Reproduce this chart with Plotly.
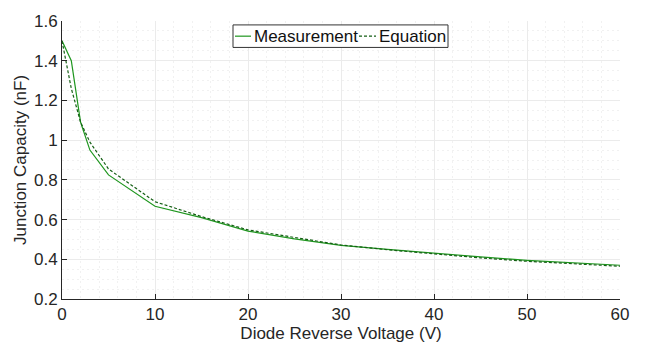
import plotly.graph_objects as go

# Reverse bias sweep (V) and junction capacitance (nF)
voltage = [0, 1, 2, 3, 5, 10, 15, 20, 25, 30, 35, 40, 45, 50, 55, 60]
measured = [1.5, 1.4, 1.09, 0.95, 0.825, 0.667, 0.61, 0.542, 0.503, 0.47,
            0.45, 0.43, 0.412, 0.395, 0.382, 0.37]
equation = [1.5, 1.26, 1.09, 0.99, 0.855, 0.69, 0.615, 0.548, 0.51, 0.472,
            0.448, 0.426, 0.407, 0.39, 0.376, 0.365]

x_ticks = [0, 10, 20, 30, 40, 50, 60]
y_ticks = [0.2, 0.4, 0.6, 0.8, 1.0, 1.2, 1.4, 1.6]
y_tick_text = ["0.2", "0.4", "0.6", "0.8", "1", "1.2", "1.4", "1.6"]

series_names = ["Measurement", "Equation"]
green = "#1e961e"
dark_green = "#155f15"
FONT = "Liberation Sans, Arial, sans-serif"

fig = go.Figure()
fig.add_trace(go.Scatter(x=voltage, y=measured, mode="lines", name=series_names[0],
                         line=dict(color=green, width=1.2), showlegend=False))
fig.add_trace(go.Scatter(x=voltage, y=equation, mode="lines", name=series_names[1],
                         line=dict(color=dark_green, width=1.2, dash="3px,2px"),
                         showlegend=False))

# Compact boxed legend drawn in paper coordinates
W, H, L, T = 645, 352, 62, 15
PW, PH = W - L - 25, H - T - 53


def px(xp):
    return (xp - L) / PW


def py(yp):
    return 1 - (yp - T) / PH


shapes = [
    dict(type="rect", xref="paper", yref="paper", x0=px(233), x1=px(448), y0=py(42), y1=py(19),
         line=dict(color="#333333", width=1), fillcolor="white", layer="above"),
    dict(type="line", xref="paper", yref="paper", x0=px(235), x1=px(251), y0=py(30.5), y1=py(30.5),
         line=dict(color=green, width=1.2), layer="above"),
    dict(type="line", xref="paper", yref="paper", x0=px(359), x1=px(376), y0=py(30.5), y1=py(30.5),
         line=dict(color=dark_green, width=1.2, dash="3px,2px"), layer="above"),
]
annotations = [
    dict(text=series_names[0], xref="paper", yref="paper", x=px(252), y=py(30.5),
         xanchor="left", yanchor="middle", showarrow=False,
         font=dict(family=FONT, size=17, color="#111111")),
    dict(text=series_names[1], xref="paper", yref="paper", x=px(377), y=py(30.5),
         xanchor="left", yanchor="middle", showarrow=False,
         font=dict(family=FONT, size=17, color="#111111")),
]

fig.update_layout(
    width=W, height=H,
    margin=dict(l=L, r=25, t=T, b=53),
    paper_bgcolor="white", plot_bgcolor="white",
    font=dict(family=FONT, size=17, color="#262626"),
    showlegend=False,
    shapes=shapes,
    annotations=annotations,
    xaxis=dict(range=[0, 60], tickvals=x_ticks, showline=True, linecolor="#262626",
               linewidth=1, mirror=False, ticks="inside", ticklen=5, tickcolor="#262626",
               showgrid=True, gridcolor="#ebebeb", gridwidth=1, zeroline=False,
               minor=dict(dtick=2, showgrid=True, gridcolor="#f1f1f1", griddash="2px,3px",
                          ticks=""),
               title=dict(text="Diode Reverse Voltage (V)", font=dict(size=17), standoff=3)),
    yaxis=dict(range=[0.2, 1.6], tickvals=y_ticks, ticktext=y_tick_text, showline=True,
               linecolor="#262626", linewidth=1, mirror=False, ticks="inside", ticklen=5,
               tickcolor="#262626", showgrid=True, gridcolor="#ebebeb", gridwidth=1,
               zeroline=False,
               minor=dict(dtick=0.05, tick0=0.2, showgrid=True, gridcolor="#f1f1f1",
                          griddash="2px,3px", ticks=""),
               title=dict(text="Junction Capacity (nF)", font=dict(size=17), standoff=3)),
)

fig.write_html("out.html")
